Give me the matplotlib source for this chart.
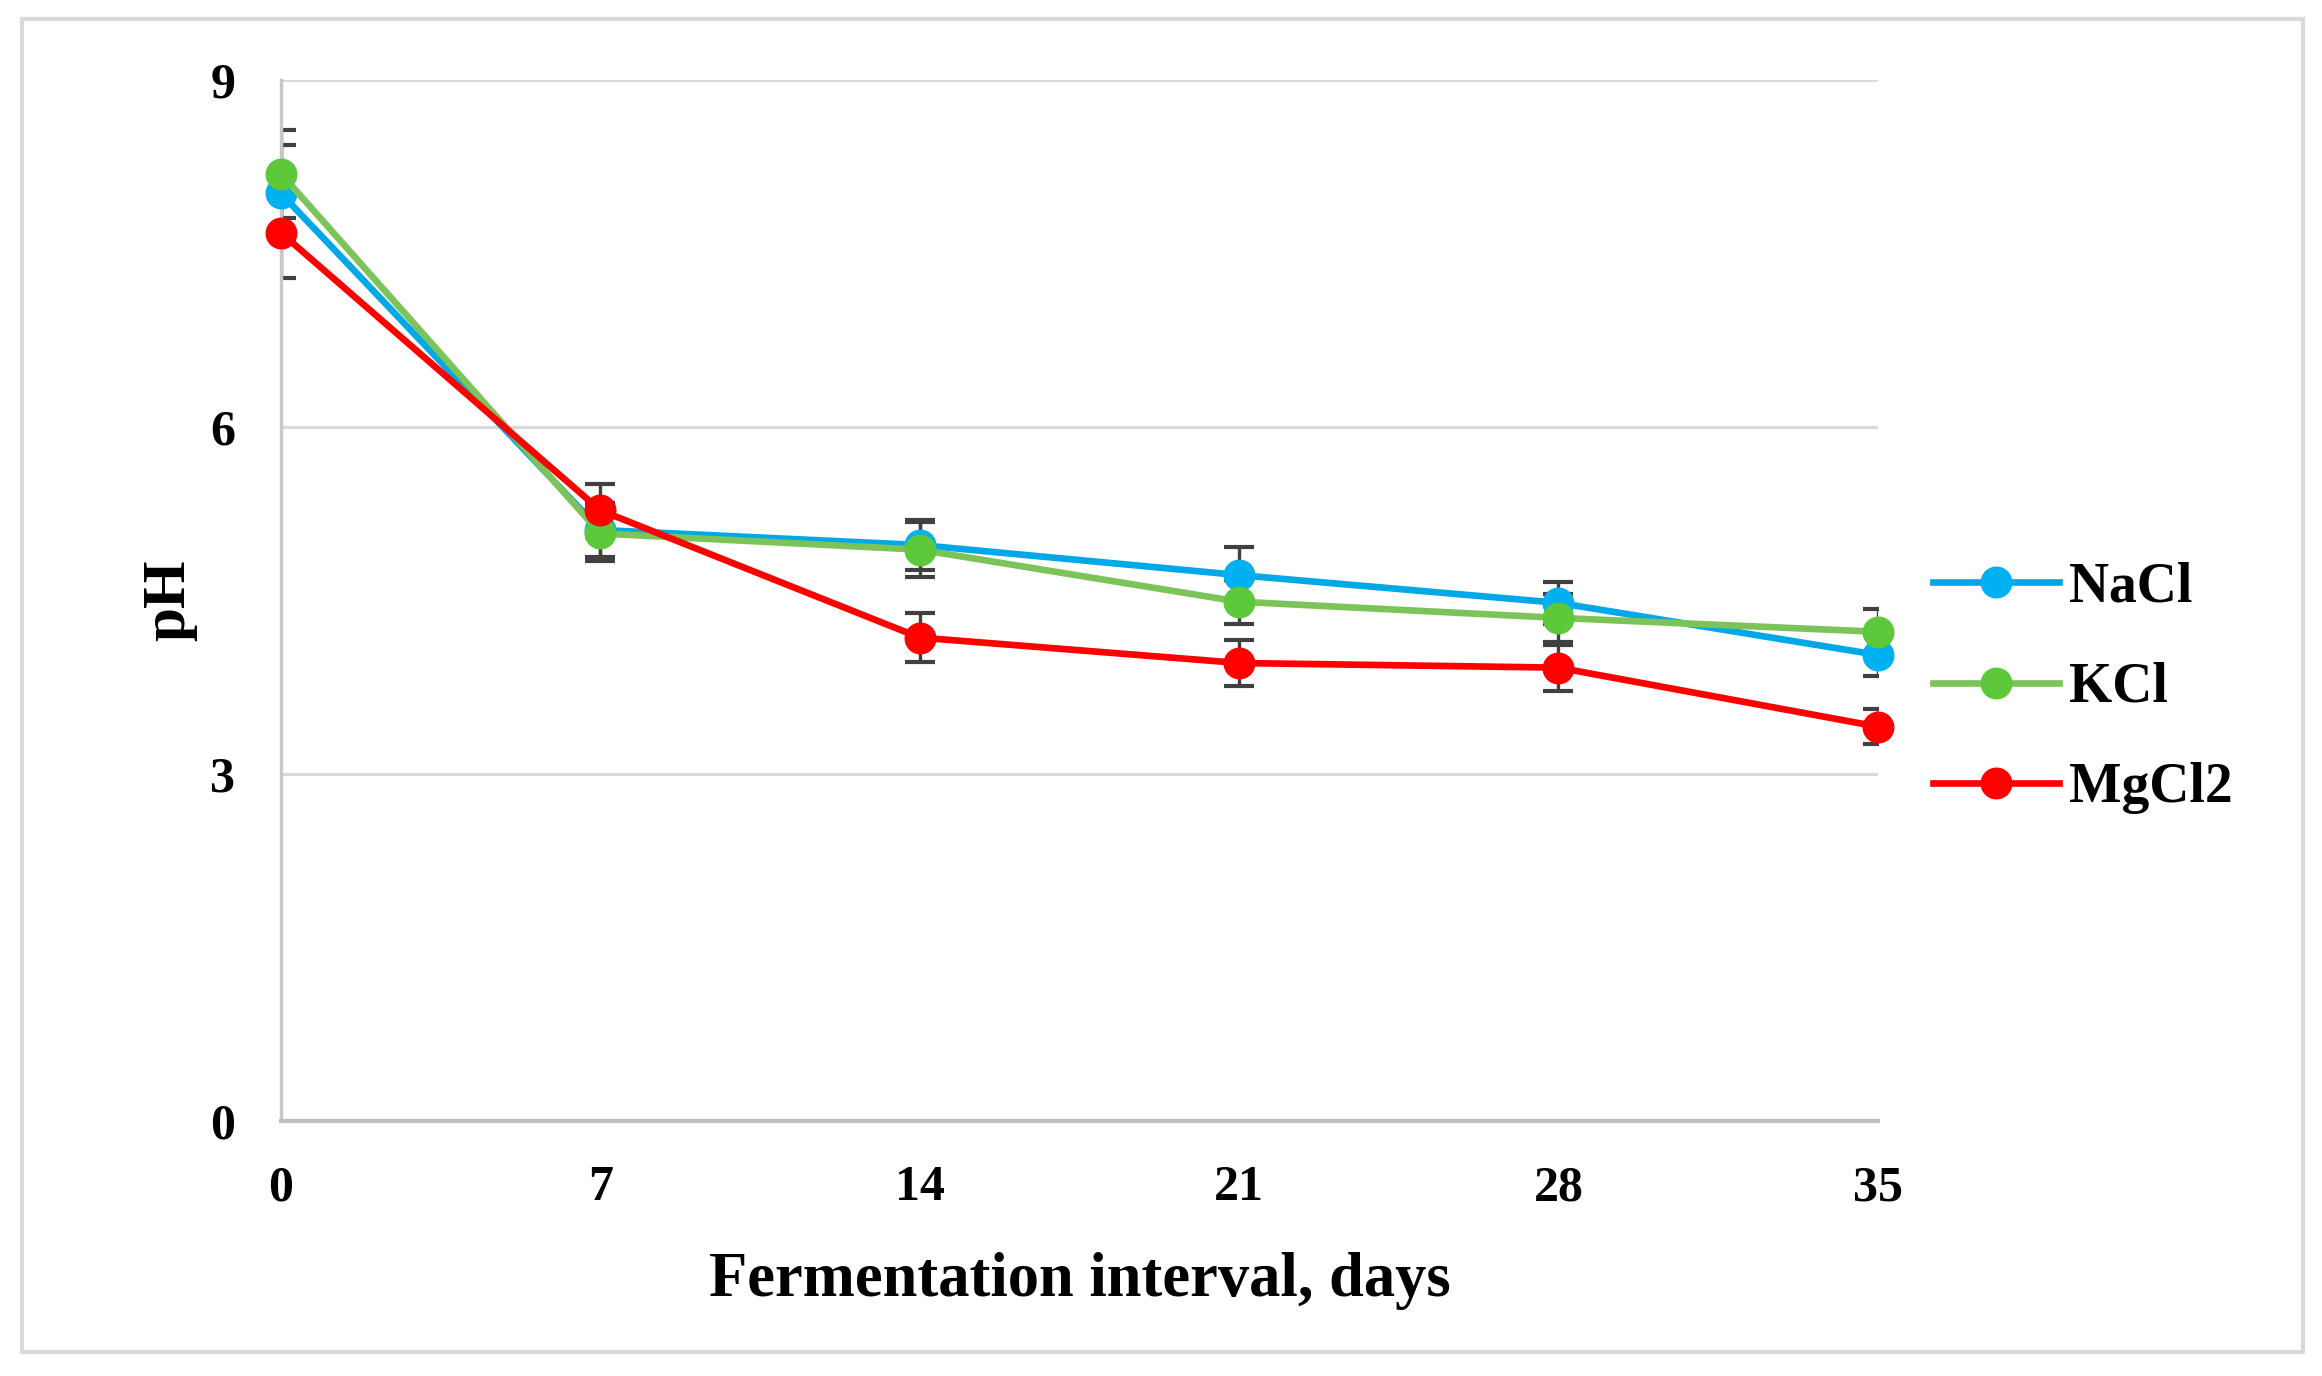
import matplotlib.pyplot as plt
from matplotlib.patches import Rectangle

days = [0, 7, 14, 21, 28, 35]
series_names = ["NaCl", "KCl", "MgCl2"]

nacl_ph = [8.02, 5.11, 4.98, 4.72, 4.48, 4.03]
kcl_ph = [8.19, 5.08, 4.94, 4.49, 4.35, 4.23]
mgcl2_ph = [7.68, 5.28, 4.18, 3.96, 3.92, 3.41]

nacl_err = [0.42, 0.23, 0.22, 0.24, 0.18, 0.18]
kcl_err = [0.38, 0.24, 0.24, 0.19, 0.21, 0.20]
mgcl2_err = [0.39, 0.23, 0.21, 0.20, 0.20, 0.15]

y_ticks = [0, 3, 6, 9]

plt.rcParams["font.family"] = ["Liberation Serif", "DejaVu Serif"]
plt.rcParams["font.weight"] = "bold"

fig = plt.figure(figsize=(23.22, 13.76), dpi=100)
ax = fig.add_axes([0.1210, 0.1853, 0.6877, 0.7565])

# light frame round the whole picture
fig.patches.append(Rectangle((0.0095, 0.0175), 0.9825, 0.969, transform=fig.transFigure,
                             fill=False, edgecolor="#d9d9d9", linewidth=3))

styles = [
    (nacl_ph, nacl_err, "#00a8e8", "#00b0f0"),
    (kcl_ph, kcl_err, "#7cc45a", "#5cc83a"),
    (mgcl2_ph, mgcl2_err, "#ff0000", "#ff0000"),
]

for (vals, errs, lc, mc), name in zip(styles, series_names):
    ax.errorbar(days, vals, yerr=errs, fmt="none", ecolor="#404040",
                elinewidth=2.4, capsize=10.5, capthick=3, zorder=2)
    ax.plot(days, vals, color=lc, linewidth=4.8, marker="o", markersize=22,
            markerfacecolor=mc, markeredgecolor=mc, label=name, zorder=3,
            clip_on=False)

ax.set_xlim(0, 35)
ax.set_ylim(0, 9)
ax.set_xticks(days)
ax.set_yticks(y_ticks)
ax.tick_params(axis="both", length=0, labelsize=36)
ax.tick_params(axis="y", pad=33)
ax.tick_params(axis="x", pad=32)
for lab in ax.get_xticklabels() + ax.get_yticklabels():
    lab.set_fontweight("bold")

ax.grid(axis="y", color="#d9d9d9", linewidth=2.2)
ax.set_axisbelow(True)
for side in ["top", "right"]:
    ax.spines[side].set_visible(False)
ax.spines["left"].set_color("#c8c8c8")
ax.spines["left"].set_linewidth(2.5)
ax.spines["bottom"].set_color("#bfbfbf")
ax.spines["bottom"].set_linewidth(3)

ax.set_xlabel("Fermentation interval, days", fontsize=45, fontweight="bold", labelpad=29)
ax.set_ylabel("pH", fontsize=44, fontweight="bold", labelpad=9)

leg = ax.legend(loc="center left", bbox_to_anchor=(0.8325, 0.5), bbox_transform=fig.transFigure,
                frameon=False, fontsize=40, handlelength=2.27, handletextpad=0.18,
                labelspacing=0.87, borderpad=0, borderaxespad=0)
for t in leg.get_texts():
    t.set_fontweight("bold")

fig.savefig("out.png", dpi=100)
